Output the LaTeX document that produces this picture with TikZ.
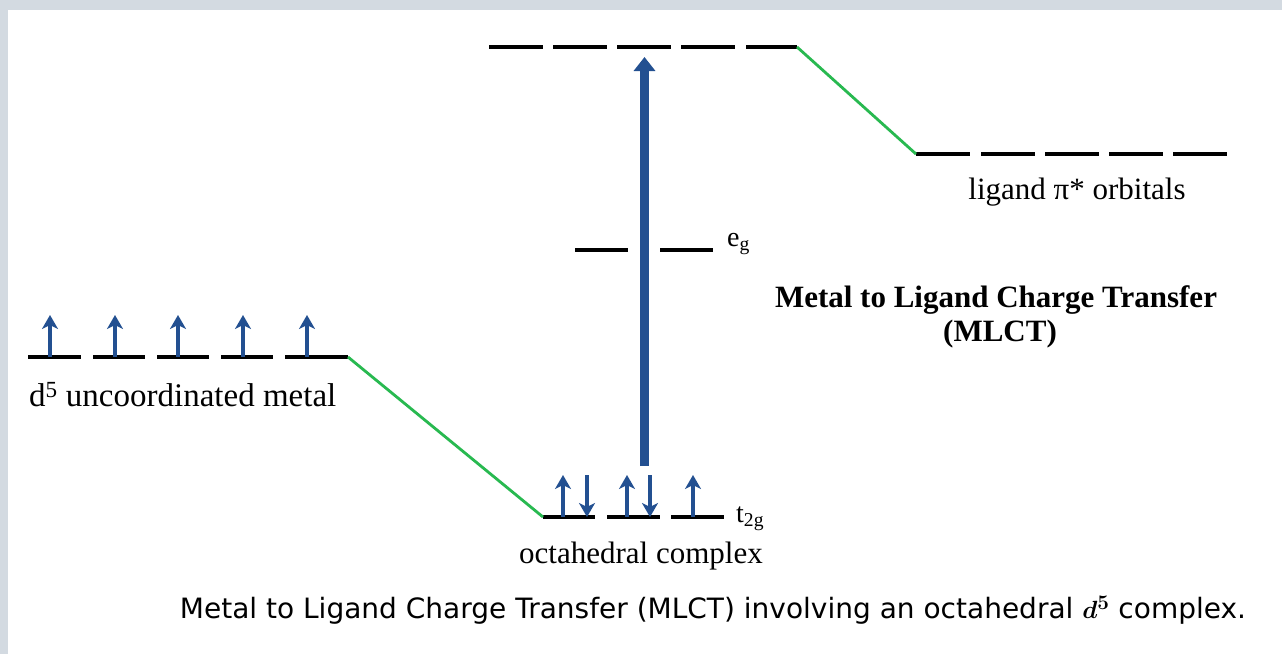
\documentclass[tikz,border=0pt]{standalone}
\usepackage{fontspec}
\setmainfont{Liberation Serif}
\newfontfamily\capfont{DejaVu Sans}
\usetikzlibrary{arrows.meta}
\definecolor{frame}{RGB}{211,218,225}
\definecolor{eblue}{RGB}{35,80,145}
\definecolor{lgreen}{RGB}{40,185,80}
\tikzset{
  level/.style={line width=4.5pt, black},
  link/.style={line width=2.8pt, lgreen},
  spin/.style={line width=3.6pt, eblue, -{Stealth[width=16pt,length=14pt,inset=4pt]}},
  lbl/.style={inner sep=0pt, font=\fontsize{31}{36}\selectfont},
}
\begin{document}
\begin{tikzpicture}[x=1pt,y=-1pt]
\useasboundingbox (0,0) rectangle (1282,654);
\fill[frame] (0,0) rectangle (1282,654);
\fill[white] (8,10) rectangle (1282,654);

% top level (5 dashes)
\foreach \a/\b in {489/543,553/607,617/671,681/735,746/797}
  \draw[level] (\a,47) -- (\b,47);
\coordinate (topR) at (797,47);
% ligand pi* level
\foreach \a/\b in {916/970,981/1035,1045/1099,1109/1163,1173/1227}
  \draw[level] (\a,154) -- (\b,154);
\coordinate (ligL) at (916,154);
\draw[link] (topR) -- (ligL);
\node[lbl] (ligtxt) at (1077,192) {ligand π* orbitals};

% eg level
\draw[level] (575,250) -- (628,250);
\draw[level] (660,250) -- (713,250);
\node[lbl, anchor=west, font=\fontsize{28}{32}\selectfont] (eg) at (727,244) {e\textsubscript{g}};

% d5 metal level
\foreach \a/\b in {28/81,93/145,157/209,221/273,285/348}
  \draw[level] (\a,357) -- (\b,357);
\foreach \x in {50,115,178,243,307}
  \draw[spin] (\x,357) -- (\x,315);
\coordinate (metR) at (348,357);
\node[lbl, anchor=west, font=\fontsize{33}{38}\selectfont] (mettxt) at (29,395) {d\textsuperscript{5} uncoordinated metal};

% t2g level
\foreach \a/\b in {543/595,607/660,671/724}
  \draw[level] (\a,517) -- (\b,517);
\coordinate (t2L) at (543,517);
\draw[link] (metR) -- (t2L);
\foreach \x in {563,627,693}
  \draw[spin] (\x,517) -- (\x,475);
\foreach \x in {587,650}
  \draw[spin] (\x,475) -- (\x,517);
\node[lbl, anchor=west, font=\fontsize{28}{32}\selectfont] (t2g) at (736,519) {t\textsubscript{2g}};
\node[lbl] (octtxt) at (641,556) {octahedral complex};

% MLCT transition arrow
\coordinate (trS) at (644.5,466);
\coordinate (trE) at (644.5,57);
\draw[line width=9pt, eblue, -{Triangle[width=21pt,length=14pt]}] (trS) -- (trE);

\node[lbl, font=\fontsize{31}{36}\selectfont\bfseries] (mlct1) at (996,300) {Metal to Ligand Charge Transfer};
\node[lbl, font=\fontsize{31}{36}\selectfont\bfseries] (mlct2) at (1000,334) {(MLCT)};

\node[inner sep=0pt, font=\capfont\fontsize{28}{32}\selectfont] (cap) at (713,610)
  {Metal to Ligand Charge Transfer (MLCT) involving an octahedral {\boldmath$d^5$} complex.};
\end{tikzpicture}
\end{document}
